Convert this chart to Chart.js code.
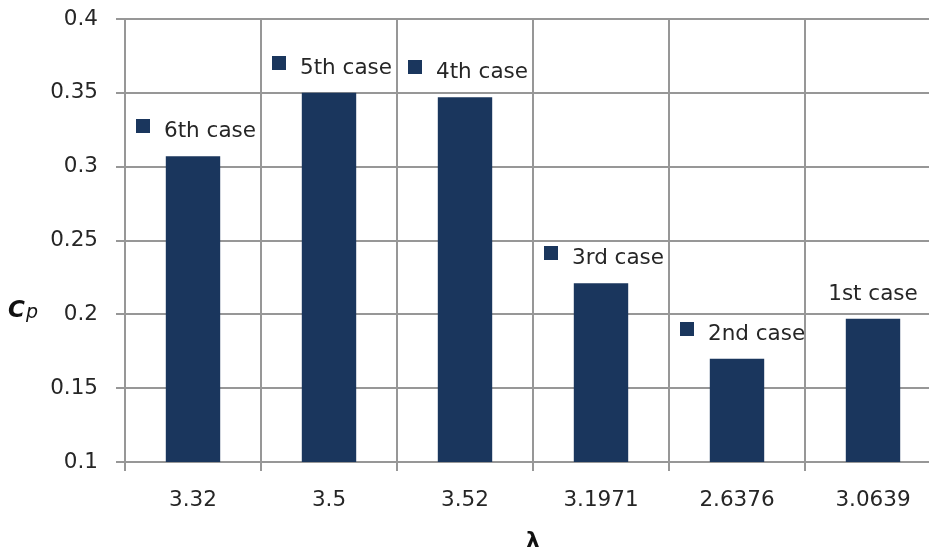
<!DOCTYPE html>
<html>
<head>
<meta charset="utf-8">
<script src="https://cdn.jsdelivr.net/npm/chart.js@4.4.1/dist/chart.umd.min.js"></script>
<style>
  html, body { margin: 0; padding: 0; background: #fff; }
  #wrap { width: 929px; height: 556px; overflow: hidden; position: relative; }
  canvas { display: block; }
</style>
</head>
<body>
<div id="wrap"><canvas id="c" width="941" height="556" style="width:941px;height:556px"></canvas></div>
<script>
// Tip speed ratio (lambda) for each case, in plotted order
const lambdaLabels = ['3.32', '3.5', '3.52', '3.1971', '2.6376', '3.0639'];
// Power coefficient Cp for each case
const cpValues = [0.307, 0.350, 0.347, 0.221, 0.170, 0.197];
// Case names shown above the bars
const caseNames = ['6th case', '5th case', '4th case', '3rd case', '2nd case', '1st case'];
// Whether the case name carries a colour key square
const caseHasKey = [true, true, true, true, true, false];
// Value axis ticks
const yTickValues = [0.1, 0.15, 0.2, 0.25, 0.3, 0.35, 0.4];
const yTickLabels = ['0.1', '0.15', '0.2', '0.25', '0.3', '0.35', '0.4'];

const BAR = '#1a365d';
const TEXT = '#262626';
const GRID = '#979797';
const FONT = '"DejaVu Sans", sans-serif';

// Case names with their key squares, placed above each bar
const caseLabelPlugin = {
  id: 'caseLabels',
  afterDatasetsDraw(chart) {
    const ctx = chart.ctx;
    const meta = chart.getDatasetMeta(0);
    ctx.save();
    ctx.font = '21.5px ' + FONT;
    ctx.textBaseline = 'alphabetic';
    meta.data.forEach((bar, i) => {
      const baseline = bar.y - 19;
      if (caseHasKey[i]) {
        ctx.fillStyle = BAR;
        ctx.fillRect(Math.round(bar.x - 57), Math.round(bar.y - 37), 14, 14);
        ctx.fillStyle = TEXT;
        ctx.textAlign = 'left';
        ctx.fillText(caseNames[i], bar.x - 29, baseline);
      } else {
        ctx.fillStyle = TEXT;
        ctx.textAlign = 'center';
        ctx.fillText(caseNames[i], bar.x, baseline);
      }
    });
    ctx.restore();
  }
};

// Upright axis name "Cp" beside the value axis
const cpTitlePlugin = {
  id: 'cpTitle',
  afterDraw(chart) {
    const ctx = chart.ctx;
    ctx.save();
    ctx.fillStyle = '#111';
    ctx.textBaseline = 'alphabetic';
    ctx.textAlign = 'left';
    ctx.font = 'bold italic 23px ' + FONT;
    ctx.fillText('C', 8, 317);
    ctx.font = 'italic 19px ' + FONT;
    ctx.fillText('p', 26, 318);
    ctx.restore();
  }
};

new Chart(document.getElementById('c'), {
  type: 'bar',
  data: {
    labels: lambdaLabels,
    datasets: [{
      data: cpValues,
      backgroundColor: BAR,
      borderWidth: 0,
      barPercentage: 0.5,
      categoryPercentage: 0.8
    }]
  },
  options: {
    responsive: false,
    animation: false,
    devicePixelRatio: 1,
    layout: { padding: { top: 19, right: 0, bottom: 0, left: 0 } },
    plugins: {
      legend: { display: false },
      tooltip: { enabled: false }
    },
    scales: {
      x: {
        grid: { color: GRID, lineWidth: 2, tickLength: 9, offset: true },
        border: { color: GRID, width: 2 },
        ticks: { color: TEXT, font: { family: FONT, size: 21.5 }, padding: 17, maxRotation: 0 },
        title: {
          display: true,
          text: 'λ',
          color: '#111',
          font: { family: FONT, size: 21, weight: 'bold' },
          padding: { top: 0, bottom: 2 }
        },
        afterFit(scale) {
          scale.height = 94;
          scale.paddingLeft = 0;
          scale.paddingRight = 0;
        }
      },
      y: {
        min: 0.1,
        max: 0.4,
        grid: { color: GRID, lineWidth: 2, tickLength: 9 },
        border: { color: GRID, width: 2 },
        ticks: {
          color: TEXT,
          font: { family: FONT, size: 21.5 },
          padding: 18,
          callback: (v, i) => yTickLabels[i]
        },
        afterBuildTicks(scale) { scale.ticks = yTickValues.map(v => ({ value: v })); },
        afterFit(scale) {
          scale.width = 125;
          scale.paddingTop = 0;
          scale.paddingBottom = 0;
        }
      }
    }
  },
  plugins: [caseLabelPlugin, cpTitlePlugin]
});
</script>
</body>
</html>
